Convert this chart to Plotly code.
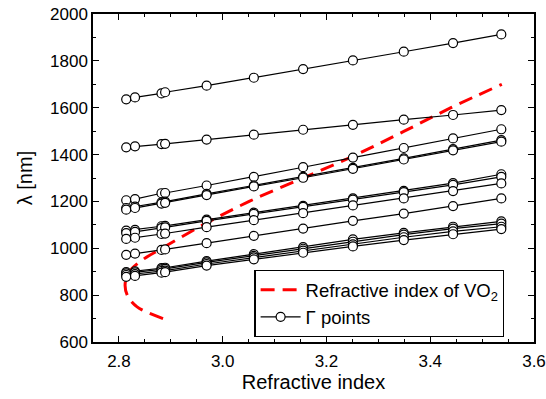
import plotly.graph_objects as go

# Refractive index values of the Γ-point sweep
n_vals = [2.814, 2.831, 2.882, 2.889, 2.969, 3.060, 3.155, 3.251, 3.349, 3.444, 3.537]

# Γ-point wavelengths (nm), one list per band
band_A = [1636, 1644, 1661, 1666, 1694, 1728, 1765, 1802, 1839, 1876, 1913]
band_B = [1431, 1435, 1445, 1446, 1464, 1485, 1506, 1527, 1549, 1569, 1590]
band_C = [1205, 1210, 1235, 1236, 1268, 1305, 1346, 1387, 1428, 1469, 1508]
band_D1 = [1172, 1178, 1196, 1199, 1232, 1268, 1305, 1343, 1384, 1423, 1462]
band_D2 = [1165, 1172, 1191, 1194, 1227, 1264, 1301, 1339, 1379, 1418, 1455]
band_E1 = [1075, 1079, 1094, 1096, 1122, 1152, 1181, 1213, 1245, 1278, 1316]
band_E2 = [1065, 1070, 1086, 1089, 1117, 1147, 1177, 1208, 1240, 1271, 1305]
band_E3 = [1040, 1045, 1061, 1063, 1090, 1120, 1150, 1183, 1213, 1244, 1277]
band_E4 = [972, 977, 993, 995, 1022, 1053, 1084, 1117, 1148, 1180, 1213]
band_F1 = [898, 902, 915, 917, 945, 975, 1005, 1038, 1066, 1092, 1115]
band_F2 = [893, 897, 910, 912, 940, 968, 998, 1028, 1058, 1084, 1105]
band_F3 = [886, 890, 903, 905, 933, 961, 990, 1017, 1047, 1072, 1092]
band_F4 = [878, 882, 896, 898, 926, 953, 981, 1008, 1035, 1060, 1082]

bands = [band_A, band_B, band_C, band_D1, band_D2, band_E1, band_E2, band_E3,
         band_E4, band_F1, band_F2, band_F3, band_F4]

# VO2 refractive index dispersion
vo2_wl = [700, 750, 800, 850, 900, 950, 1000, 1100, 1200, 1300, 1400, 1500, 1600, 1700]
vo2_n = [2.885, 2.835, 2.816, 2.812, 2.820, 2.845, 2.883, 2.962, 3.051, 3.155, 3.258, 3.350, 3.440, 3.538]

FONT = "Arial, Liberation Sans, sans-serif"

fig = go.Figure()

fig.add_trace(go.Scatter(
    x=vo2_n, y=vo2_wl, mode="lines", name="Refractive index of VO<sub>2</sub>",
    line=dict(color="#ff0000", width=3, dash="14px,8px", shape="spline"),
    showlegend=True,
))

for i, b in enumerate(bands):
    fig.add_trace(go.Scatter(
        x=n_vals, y=b, mode="lines+markers", name="Γ points",
        line=dict(color="black", width=1.2),
        marker=dict(symbol="circle", size=9, color="white",
                    line=dict(color="black", width=1.2)),
        showlegend=(i == 0),
    ))

axis_common = dict(
    showline=True, linecolor="black", linewidth=1.5, mirror="ticks",
    ticks="inside", ticklen=6, tickwidth=1.2, tickcolor="black",
    showgrid=False, zeroline=False, automargin=False,
    tickfont=dict(family=FONT, size=17, color="black"),
)

fig.update_xaxes(
    range=[2.75, 3.6], tick0=2.8, dtick=0.2, tickformat=".1f",
    ticklabelstandoff=3,
    title=dict(text="Refractive index", font=dict(family=FONT, size=20, color="black"), standoff=5),
    minor=dict(ticks="inside", ticklen=3.5, tickwidth=1, tickcolor="black", dtick=0.05, tick0=2.8),
    **axis_common,
)
fig.update_yaxes(
    range=[600, 2000], tick0=600, dtick=200,
    title=dict(text="λ [nm]", font=dict(family=FONT, size=20, color="black"), standoff=12),
    minor=dict(ticks="inside", ticklen=3.5, tickwidth=1, tickcolor="black", dtick=100, tick0=600),
    **axis_common,
)

fig.update_layout(
    width=546, height=399,
    margin=dict(l=93, r=12, t=14, b=57),
    paper_bgcolor="white", plot_bgcolor="white",
    font=dict(family=FONT, size=17, color="black"),
    legend=dict(
        x=0.366, y=0.2195, xanchor="left", yanchor="top",
        bordercolor="black", borderwidth=1.2, bgcolor="white",
        font=dict(family=FONT, size=18.5, color="black"),
        tracegroupgap=0, itemwidth=40,
    ),
)

fig.write_html("out.html")
